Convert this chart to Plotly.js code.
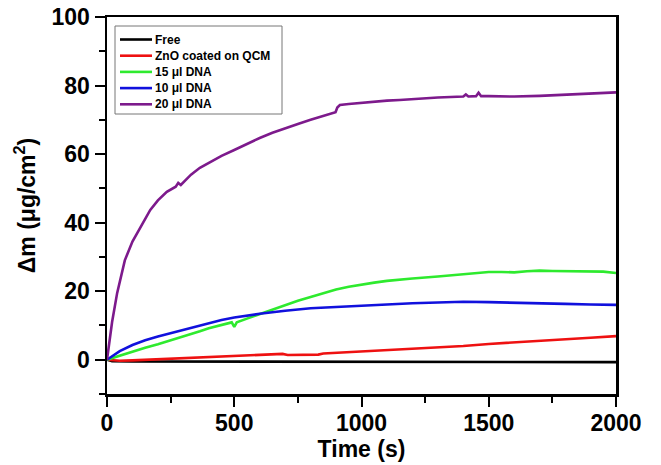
<!DOCTYPE html>
<html>
<head>
<meta charset="utf-8">
<script src="https://cdn.plot.ly/plotly-3.0.1.min.js"></script>
<style>html,body{margin:0;padding:0;background:#fff;}#chart{width:661px;height:465px;}</style>
</head>
<body>
<div id="chart"></div>
<script>
// Free (black)
var tFree = [0, 20, 100, 300, 500, 700, 900, 1100, 1300, 1500, 1700, 1900, 2000];
var yFree = [0, -0.4, -0.5, -0.5, -0.6, -0.6, -0.6, -0.7, -0.7, -0.7, -0.7, -0.7, -0.7];

// ZnO coated on QCM (red)
var tZnO = [0, 50, 100, 200, 300, 400, 500, 600, 690, 710, 800, 830, 850, 900, 1000, 1100, 1200, 1300, 1400, 1500, 1600, 1700, 1800, 1900, 2000];
var yZnO = [0, -0.3, -0.2, 0.1, 0.5, 0.8, 1.1, 1.4, 1.7, 1.4, 1.4, 1.5, 1.8, 2.0, 2.3, 2.8, 3.1, 3.5, 4.0, 4.6, 5.0, 5.5, 5.9, 6.4, 6.9];

// 15 ul DNA (green)
var tD15 = [0, 50, 100, 150, 200, 250, 300, 365, 400, 450, 490, 500, 510, 550, 600, 650, 700, 750, 800, 850, 900, 950, 1000, 1050, 1100, 1150, 1200, 1300, 1400, 1450, 1500, 1550, 1600, 1650, 1700, 1750, 1800, 1900, 1950, 2000];
var yD15 = [0, 1.2, 2.4, 3.5, 4.5, 5.6, 6.8, 8.3, 9.2, 10.2, 10.9, 9.6, 10.9, 12.0, 13.3, 14.6, 16.0, 17.2, 18.3, 19.5, 20.5, 21.3, 22.0, 22.5, 23.0, 23.4, 23.7, 24.3, 25.0, 25.4, 25.6, 25.6, 25.5, 25.8, 26.0, 25.9, 25.8, 25.8, 25.7, 25.3];

// 10 ul DNA (blue)
var tD10 = [0, 50, 100, 150, 200, 250, 300, 365, 400, 450, 500, 550, 600, 700, 800, 900, 1000, 1100, 1200, 1300, 1400, 1500, 1600, 1700, 1800, 1900, 2000];
var yD10 = [0, 2.5, 4.3, 5.7, 6.8, 7.8, 8.8, 10.0, 10.8, 11.6, 12.3, 12.9, 13.4, 14.3, 15.0, 15.4, 15.8, 16.2, 16.5, 16.7, 16.9, 16.8, 16.7, 16.5, 16.3, 16.1, 16.0];

// 20 ul DNA (purple)
var tD20 = [0, 10, 20, 40, 70, 100, 140, 170, 200, 235, 270, 280, 290, 330, 365, 400, 450, 500, 550, 600, 650, 700, 750, 800, 850, 898, 905, 915, 950, 1000, 1100, 1150, 1200, 1300, 1400, 1410, 1420, 1450, 1460, 1470, 1500, 1600, 1700, 1800, 1900, 1950, 2000];
var yD20 = [0, 6, 11, 19.5, 29, 34.5, 40, 43.7, 46.5, 49, 50.5, 51.6, 51, 54, 56, 57.5, 59.5, 61.2, 63, 64.7, 66.2, 67.6, 68.8, 70, 71.2, 72.2, 73.6, 74.3, 74.6, 75, 75.6, 75.8, 76.1, 76.5, 76.8, 77.4, 76.8, 76.9, 77.9, 76.9, 76.9, 76.8, 77.0, 77.3, 77.6, 77.9, 78.0];

var names = ["Free", "ZnO coated on QCM", "15 μl DNA", "10 μl DNA", "20 μl DNA"];
var colors = ["#000000", "#ee1111", "#2eea2e", "#1111dd", "#7d1a8c"];

var xs = [tFree, tZnO, tD15, tD10, tD20];
var ys = [yFree, yZnO, yD15, yD10, yD20];
var traces = xs.map(function (x, i) {
  return {x: x, y: ys[i], name: names[i], type: "scatter", mode: "lines",
          line: {color: colors[i], width: 2.6}, showlegend: false};
});

var fontFam = "Arial, 'Liberation Sans', sans-serif";

// Hand-built legend (paper coordinates relative to the plot area)
var plotL = 107, plotT = 17, plotW = 509, plotH = 377;
function px2x(p) { return (p - plotL) / plotW; }
function px2y(p) { return (plotT + plotH - p) / plotH; }
var legBox = {x0: 115, x1: 282, y0: 26, y1: 114};
var legRow0 = 39.5, legRowStep = 16.2, legLineX0 = 120, legLineX1 = 152, legTextX = 153;

var shapes = [{type: "rect", xref: "paper", yref: "paper",
  x0: px2x(legBox.x0), x1: px2x(legBox.x1), y0: px2y(legBox.y1), y1: px2y(legBox.y0),
  line: {color: "#777", width: 1}, fillcolor: "#fff", layer: "above"}];
var annotations = [];
names.forEach(function (n, i) {
  var yy = px2y(legRow0 + i * legRowStep);
  shapes.push({type: "line", xref: "paper", yref: "paper",
    x0: px2x(legLineX0), x1: px2x(legLineX1), y0: yy, y1: yy,
    line: {color: colors[i], width: 2.6}, layer: "above"});
  annotations.push({xref: "paper", yref: "paper", x: px2x(legTextX), y: yy,
    xanchor: "left", yanchor: "middle", showarrow: false, text: n,
    font: {family: fontFam, size: 12, weight: "bold", color: "#000"}});
});

var layout = {
  width: 661, height: 465,
  margin: {l: plotL, r: 661 - plotL - plotW, t: plotT, b: 465 - plotT - plotH},
  paper_bgcolor: "#fff", plot_bgcolor: "#fff",
  showlegend: false,
  shapes: shapes,
  annotations: annotations,
  xaxis: {range: [0, 2000], tickvals: [0, 500, 1000, 1500, 2000],
          ticks: "outside", ticklen: 10, tickwidth: 2, tickcolor: "#000",
          ticklabelstandoff: -3,
          minor: {tickvals: [250, 750, 1250, 1750], ticks: "outside", ticklen: 6, tickwidth: 2, tickcolor: "#000"},
          showline: true, linewidth: 2.5, linecolor: "#000", mirror: true,
          showgrid: false, zeroline: false,
          tickfont: {family: fontFam, size: 23, weight: "bold", color: "#000"},
          title: {text: "Time (s)", standoff: 4, font: {family: fontFam, size: 23, weight: "bold", color: "#000"}}},
  yaxis: {range: [-10, 100], tickvals: [0, 20, 40, 60, 80, 100],
          ticks: "outside", ticklen: 10, tickwidth: 2, tickcolor: "#000",
          minor: {tickvals: [-10, 10, 30, 50, 70, 90], ticks: "outside", ticklen: 6, tickwidth: 2, tickcolor: "#000"},
          showline: true, linewidth: 2.5, linecolor: "#000", mirror: true,
          showgrid: false, zeroline: false,
          tickfont: {family: fontFam, size: 23, weight: "bold", color: "#000"},
          title: {text: "Δm (μg/cm<sup>2</sup>)", standoff: 10, font: {family: fontFam, size: 23, weight: "bold", color: "#000"}}}
};

Plotly.newPlot("chart", traces, layout, {displayModeBar: false, staticPlot: true});
</script>
</body>
</html>
